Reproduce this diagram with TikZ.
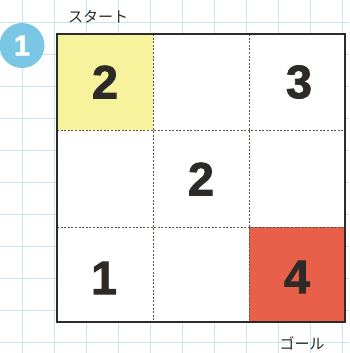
\documentclass[tikz,border=0pt]{standalone}
\usepackage{fontspec}
\setmainfont{Liberation Sans}
\newfontfamily\heavyfont{Liberation Sans Bold}[FakeBold=1.6]
\newfontfamily\cjk{Noto Sans CJK JP}
\definecolor{gridblue}{HTML}{C8E6F0}
\definecolor{badge}{HTML}{6EC3E3}
\definecolor{startyel}{HTML}{F6F39C}
\definecolor{goalred}{HTML}{E8604A}
\definecolor{ink}{HTML}{2E2A28}
\definecolor{dashc}{HTML}{5E5048}
\tikzset{
  numtxt/.style={font=\heavyfont\fontsize{47}{47}\selectfont, text=ink, inner sep=0pt},
  labtxt/.style={font=\cjk\fontsize{15}{15}\selectfont, text=ink, inner sep=0pt},
  divline/.style={dashc, line width=0.8pt, dash pattern=on 2pt off 1.6pt},
}
\begin{document}
\begin{tikzpicture}[x=1pt,y=-1pt]
\useasboundingbox (0,0) rectangle (349,353);
\fill[white] (0,0) rectangle (349,353);
% background graph paper
\foreach \g in {22,54,...,342} {
  \draw[gridblue, line width=0.6pt] (\g,0) -- (\g,353);
  \draw[gridblue, line width=0.6pt] (0,\g) -- (349,\g);
}
% board
\fill[white] (57,34) rectangle (345,322);
\fill[startyel] (57,34) rectangle (153,130);
\fill[goalred] (249,227) rectangle (345,322);
\draw[divline] (153,34) -- (153,322);
\draw[divline] (249,34) -- (249,322);
\draw[divline] (57,130) -- (345,130);
\draw[divline] (57,227) -- (345,227);
\draw[ink, line width=1.6pt] (57,34) rectangle (345,322);
% numbers
\node[numtxt] (n11) at (105,82) {2};
\node[numtxt] (n13) at (299,82) {3};
\node[numtxt] (n22) at (201,179) {2};
\node[numtxt] (n31) at (104,278) {1};
\node[numtxt] (n33) at (297,277) {4};
% labels
\node[labtxt] (start) at (98,17) {スタート};
\node[labtxt] (goal) at (302,343) {ゴール};
% badge
\node[circle, fill=badge, fill opacity=0.92, text opacity=1, minimum size=45pt, inner sep=0pt, text=white,
      font=\heavyfont\fontsize{29}{29}\selectfont] (badge) at (22,45.5) {1};
\end{tikzpicture}
\end{document}
